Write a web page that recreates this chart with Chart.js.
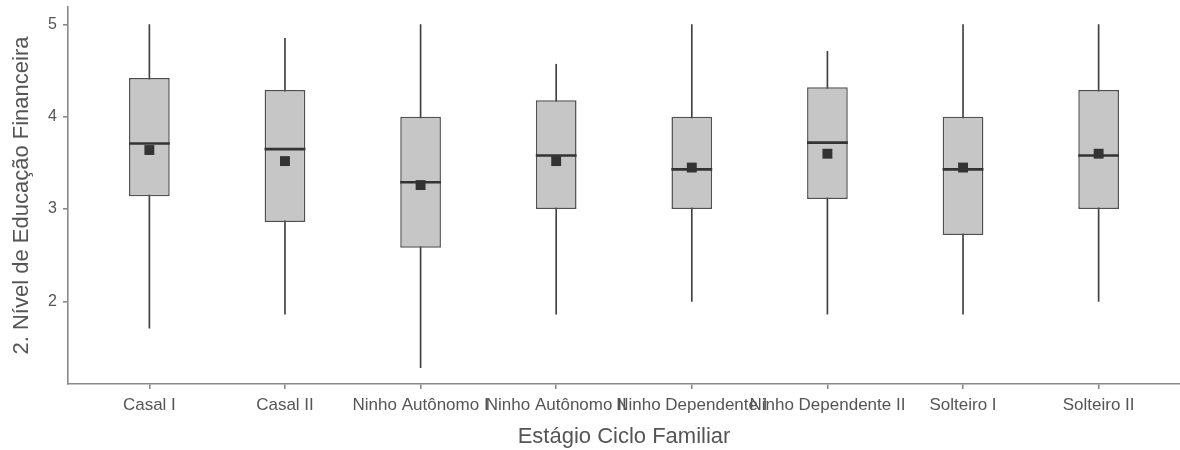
<!DOCTYPE html>
<html>
<head>
<meta charset="utf-8">
<script src="https://cdn.jsdelivr.net/npm/chart.js@4/dist/chart.umd.min.js"></script>
<style>
  html, body { margin: 0; padding: 0; background: #fff; }
  canvas { display: block; }
</style>
</head>
<body>
<canvas id="boxChart" width="1180" height="450"></canvas>
<script>
// Estágio do ciclo familiar x nível de educação financeira
const categories = ['Casal I', 'Casal II', 'Ninho Autônomo I', 'Ninho Autônomo II',
                    'Ninho Dependente I', 'Ninho Dependente II', 'Solteiro I', 'Solteiro II'];
const whiskerLow  = [1.71, 1.86, 1.28, 1.86, 2.00, 1.86, 1.86, 2.00];
const q1          = [3.14, 2.86, 2.58, 3.00, 3.00, 3.11, 2.72, 3.00];
const median      = [3.71, 3.65, 3.29, 3.58, 3.43, 3.72, 3.43, 3.58];
const q3          = [4.42, 4.29, 4.00, 4.18, 4.00, 4.32, 4.00, 4.29];
const whiskerHigh = [5.00, 4.85, 5.00, 4.57, 5.00, 4.71, 5.00, 5.00];
const mean        = [3.64, 3.52, 3.26, 3.52, 3.45, 3.60, 3.45, 3.60];
const yTicks = [2, 3, 4, 5];

const axisColor = '#8a8a8a';
const textColor = '#555555';
const font = 'Liberation Sans, Arial, sans-serif';

const pos = categories.map((_, i) => i + 1);

new Chart(document.getElementById('boxChart'), {
    type: 'bar',
    data: {
        datasets: [
            {
                type: 'scatter',
                data: pos.map((x, i) => ({ x: x, y: mean[i] })),
                pointStyle: 'rect',
                radius: 7,
                backgroundColor: '#333333',
                borderWidth: 0,
                order: 0
            },
            {
                type: 'scatter',
                data: pos.map((x, i) => ({ x: x, y: median[i] })),
                pointStyle: 'line',
                radius: 20.4,
                borderColor: '#333333',
                borderWidth: 2.6,
                order: 1
            },
            {
                data: pos.map((x, i) => ({ x: x, y: [q1[i], q3[i]] })),
                backgroundColor: '#c6c6c6',
                borderColor: '#505050',
                borderWidth: 1.5,
                borderSkipped: false,
                barPercentage: 0.3,
                categoryPercentage: 1,
                grouped: false,
                order: 2
            },
            {
                data: pos.map((x, i) => ({ x: x, y: [whiskerLow[i], whiskerHigh[i]] })),
                backgroundColor: '#404040',
                borderWidth: 0,
                barThickness: 1,
                grouped: false,
                order: 3
            }
        ]
    },
    options: {
        responsive: false,
        animation: false,
        layout: { autoPadding: false, padding: { top: 7, right: 0, left: 0, bottom: 0 } },
        plugins: { legend: { display: false }, tooltip: { enabled: false } },
        scales: {
            x: {
                type: 'linear',
                offset: false,
                min: 0.4,
                max: 8.6,
                afterBuildTicks: scale => { scale.ticks = pos.map(v => ({ value: v })); },
                afterFit: scale => {
                    scale.height = 66;
                    scale.paddingLeft = 0;
                    scale.paddingRight = 0;
                },
                border: { color: axisColor, width: 1.6 },
                grid: { offset: false, drawOnChartArea: false, drawTicks: true, tickLength: 5, color: axisColor, lineWidth: 1.6 },
                ticks: {
                    autoSkip: false,
                    maxRotation: 0,
                    minRotation: 0,
                    padding: 6,
                    color: textColor,
                    font: { family: font, size: 17 },
                    callback: v => categories[v - 1]
                },
                title: {
                    display: true,
                    text: 'Estágio Ciclo Familiar',
                    color: textColor,
                    font: { family: font, size: 22 },
                    padding: { top: 0, bottom: 0 }
                }
            },
            y: {
                min: 1.104,
                max: 5.19,
                afterBuildTicks: scale => { scale.ticks = yTicks.map(v => ({ value: v })); },
                afterFit: scale => {
                    scale.width = 68;
                    scale.paddingTop = 0;
                    scale.paddingBottom = 0;
                },
                border: { color: axisColor, width: 1.6 },
                grid: { drawOnChartArea: false, drawTicks: true, tickLength: 5, color: axisColor, lineWidth: 1.6 },
                ticks: {
                    padding: 6,
                    color: textColor,
                    font: { family: font, size: 16 }
                },
                title: {
                    display: true,
                    text: '2. Nível de Educação Financeira',
                    color: textColor,
                    font: { family: font, size: 22 },
                    padding: { top: 9, bottom: 0 }
                }
            }
        }
    }
});
</script>
</body>
</html>
